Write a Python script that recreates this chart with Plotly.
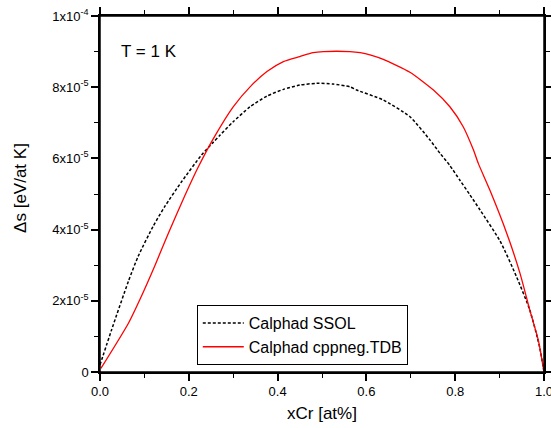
import plotly.graph_objects as go

# SSOL (black dashed)
x_ssol = [0.0, 0.026, 0.064, 0.086, 0.12, 0.146, 0.184, 0.229, 0.255, 0.27, 0.30, 0.338,
          0.376, 0.413, 0.45, 0.488, 0.525, 0.563, 0.578, 0.638, 0.698, 0.743, 0.766,
          0.788, 0.811, 0.833, 0.856, 0.901, 0.938, 0.968, 0.99, 1.0]
y_ssol_e5 = [0.2, 1.18, 2.55, 3.25, 4.1, 4.65, 5.35, 6.1, 6.45, 6.65, 7.03, 7.45,
             7.75, 7.94, 8.06, 8.11, 8.09, 8.01, 7.92, 7.64, 7.17, 6.52, 6.14,
             5.8, 5.38, 4.98, 4.55, 3.68, 2.68, 1.74, 0.71, 0.0]

# cppneg.TDB (red solid)
x_tdb = [0.002, 0.064, 0.094, 0.124, 0.154, 0.191, 0.221, 0.255, 0.30, 0.338,
         0.376, 0.413, 0.45, 0.48, 0.503, 0.563, 0.586, 0.61, 0.638, 0.698, 0.751, 0.788,
         0.818, 0.841, 0.852, 0.878, 0.916, 0.946, 0.968, 0.987, 1.0]
y_tdb_e5 = [0.1, 1.37, 2.15, 3.0, 3.9, 4.95, 5.75, 6.55, 7.45, 8.01,
            8.44, 8.72, 8.86, 8.97, 9.0, 9.0, 8.97, 8.9, 8.78, 8.42, 7.92, 7.45,
            6.89, 6.24, 5.86, 5.11, 3.9, 2.77, 1.74, 0.9, 0.0]

x_ticks = [0.0, 0.2, 0.4, 0.6, 0.8, 1.0]
x_ticklabels = ["0.0", "0.2", "0.4", "0.6", "0.8", "1.0"]
y_ticks = [0, 2e-5, 4e-5, 6e-5, 8e-5, 1e-4]
y_ticklabels = ["0", "2x10<sup>-5</sup>", "4x10<sup>-5</sup>", "6x10<sup>-5</sup>",
                "8x10<sup>-5</sup>", "1x10<sup>-4</sup>"]

FONT = "Liberation Sans, Arial, sans-serif"

fig = go.Figure()
fig.add_trace(go.Scatter(x=x_ssol, y=[v * 1e-5 for v in y_ssol_e5], mode="lines",
                         name="Calphad SSOL",
                         line=dict(color="black", width=1.5, dash="3px,2px",
                                   shape="spline", smoothing=0.6)))
fig.add_trace(go.Scatter(x=x_tdb, y=[v * 1e-5 for v in y_tdb_e5], mode="lines",
                         name="Calphad cppneg.TDB",
                         line=dict(color="red", width=1.3, shape="spline", smoothing=0.6)))

axis_common = dict(showline=True, linecolor="black", linewidth=1.5, mirror="allticks",
                   ticks="outside", ticklen=7, tickwidth=1.5, tickcolor="black",
                   showgrid=False, zeroline=False, automargin=False,
                   ticklabeloverflow="allow",
                   tickfont=dict(family=FONT, size=13, color="black"))

fig.update_xaxes(range=[0, 1], tickvals=x_ticks, ticktext=x_ticklabels,
                 minor=dict(dtick=0.1, ticks="outside", ticklen=4, tickwidth=1.2,
                            tickcolor="black", showgrid=False),
                 **axis_common)
fig.update_yaxes(range=[0, 1e-4], tickvals=y_ticks, ticktext=y_ticklabels,
                 minor=dict(dtick=1e-5, tick0=0, ticks="outside", ticklen=4, tickwidth=1.2,
                            tickcolor="black", showgrid=False),
                 **axis_common)

# frame around the plot area
fig.add_shape(type="rect", xref="paper", yref="paper", x0=0, x1=1, y0=0, y1=1,
              line=dict(color="black", width=1.5), layer="above")

# axis titles
fig.add_annotation(x=0.5, y=-0.116, xref="paper", yref="paper", text="xCr [at%]",
                   showarrow=False, xanchor="center", yanchor="middle",
                   font=dict(family=FONT, size=17, color="black"))
fig.add_annotation(x=-0.178, y=0.517, xref="paper", yref="paper", text="Δs [eV/at K]",
                   showarrow=False, xanchor="center", yanchor="middle", textangle=-90,
                   font=dict(family=FONT, size=17, color="black"))

fig.add_annotation(x=0.043, y=0.899, xref="paper", yref="paper", text="T = 1 K",
                   showarrow=False, xanchor="left", yanchor="middle",
                   font=dict(family=FONT, size=17, color="black"))

fig.update_layout(
    width=551, height=428,
    margin=dict(l=100, r=7, t=16, b=56),
    paper_bgcolor="white", plot_bgcolor="white",
    legend=dict(x=0.218, y=0.188, xanchor="left", yanchor="top",
                bordercolor="black", borderwidth=1, bgcolor="white",
                font=dict(family=FONT, size=16, color="black"),
                tracegroupgap=0, itemwidth=41),
    showlegend=True,
)

# remove the default page margin so the figure fills the 551x428 window
fig.write_html("out.html",
               config={"displayModeBar": False},
               post_script="document.body.style.margin='0';document.body.style.overflow='hidden';")
